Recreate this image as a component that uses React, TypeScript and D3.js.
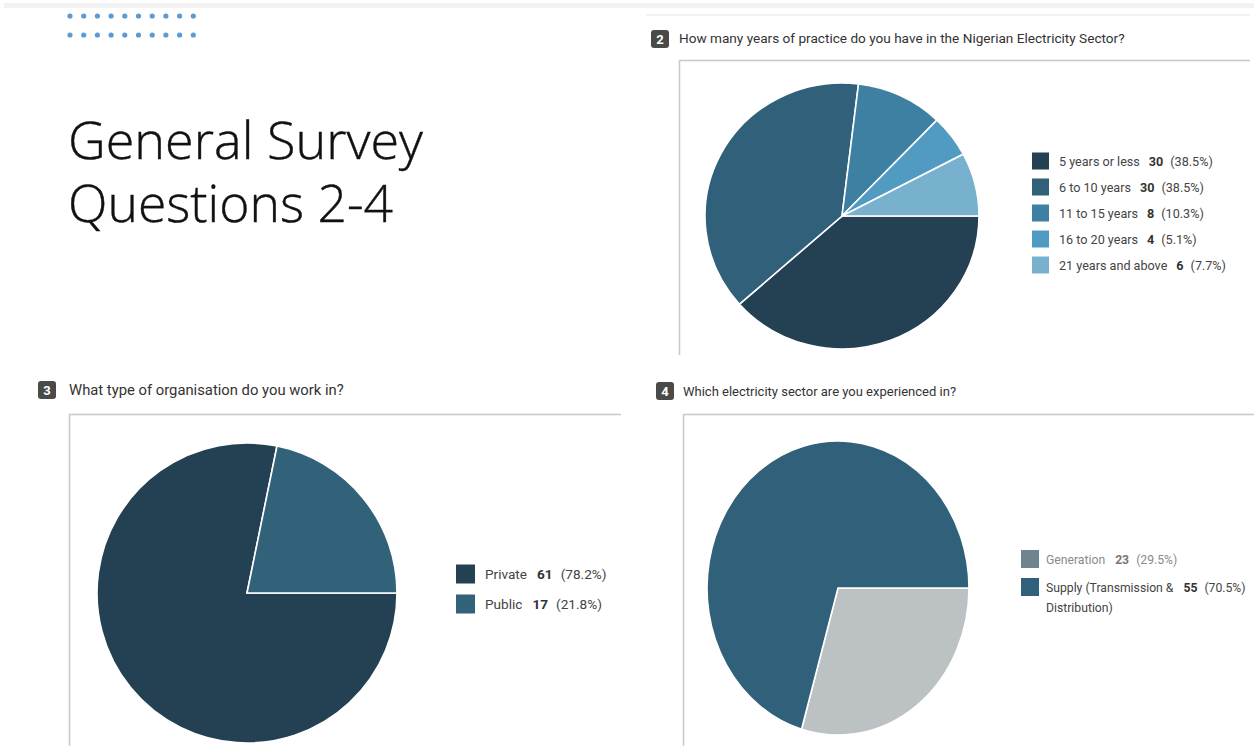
import React from "react";
import * as d3 from "d3";

const q2Labels = ["5 years or less", "6 to 10 years", "11 to 15 years", "16 to 20 years", "21 years and above"];
const q2Counts = [30, 30, 8, 4, 6];
const q2Pcts = ["38.5%", "38.5%", "10.3%", "5.1%", "7.7%"];
const q2Colors = ["#234152", "#30607a", "#3d80a2", "#519bc2", "#78b1cd"];

const q3Labels = ["Private", "Public"];
const q3Counts = [61, 17];
const q3Pcts = ["78.2%", "21.8%"];
const q3Colors = ["#234152", "#31627a"];

const q4Labels = ["Generation", "Supply (Transmission &"];
const q4Counts = [23, 55];
const q4Pcts = ["29.5%", "70.5%"];
const q4PieColors = ["#bcc1c4", "#30607a"];
const q4SwatchColors = ["#6f848f", "#30607a"];

const FONT = "Roboto, 'Noto Sans', sans-serif";

function Pie({ cx, cy, rx, ry, values, colors }: { cx: number; cy: number; rx: number; ry: number; values: number[]; colors: string[] }) {
  const pie = d3.pie<number>().sort(null).value((d) => d).startAngle(Math.PI / 2).endAngle(Math.PI / 2 + 2 * Math.PI);
  const arc = d3.arc<d3.PieArcDatum<number>>().innerRadius(0).outerRadius(rx);
  const arcs = pie(values);
  return (
    <g transform={`translate(${cx},${cy}) scale(1,${ry / rx})`}>
      {arcs.map((a, i) => (
        <path key={i} d={arc(a) || ""} fill={colors[i]} stroke="#fff" strokeWidth={1.6} vectorEffect="non-scaling-stroke" />
      ))}
    </g>
  );
}

function Badge({ x, y, n }: { x: number; y: number; n: string }) {
  return (
    <g>
      <rect x={x} y={y} width={18} height={18} rx={3} fill="#4a4a47" />
      <text x={x + 9} y={y + 14} textAnchor="middle" fill="#fff" fontSize={13} fontWeight={700} fontFamily={FONT}>{n}</text>
    </g>
  );
}

export default function App() {
  const dotsX = d3.range(10).map((i) => 70 + i * 13.7);
  const q2y = d3.scaleLinear().domain([0, 1]).range([161, 187]);
  const q3y = d3.scaleLinear().domain([0, 1]).range([574, 604]);
  const q4y = d3.scaleLinear().domain([0, 1]).range([559, 587]);
  const titleFont = "'Open Sans', 'Noto Sans', sans-serif";
  return (
    <svg width={1254} height={746} style={{ position: "absolute", left: 0, top: 0, background: "#fff" }}>
      <rect x={0} y={0} width={1254} height={746} fill="#fff" />
      <rect x={4} y={3} width={1250} height={5} fill="#f2f2f2" />
      <rect x={646} y={14} width={604} height={2} fill="#f2f2f2" />
      {[16, 35].map((yy) => dotsX.map((xx, i) => <circle key={`${yy}-${i}`} cx={xx} cy={yy} r={2.6} fill="#5b9bd5" />))}

      <text x={68} y={159} fontSize={51} fontFamily={titleFont} fontWeight={300} fill="#111" stroke="#111" strokeWidth={0.4} textLength={355} lengthAdjust="spacingAndGlyphs">General Survey</text>
      <text x={68} y={222} fontSize={51} fontFamily={titleFont} fontWeight={300} fill="#111" stroke="#111" strokeWidth={0.4} textLength={325} lengthAdjust="spacingAndGlyphs">Questions 2-4</text>

      {/* Q2 */}
      <Badge x={651} y={30} n="2" />
      <text x={679} y={43} fontSize={13.6} fontFamily={FONT} fill="#333">How many years of practice do you have in the Nigerian Electricity Sector?</text>
      <path d="M679.5,355 V60.5 H1250" fill="none" stroke="#c8c8c8" strokeWidth={1.5} />
      <Pie cx={842} cy={216} rx={137} ry={133} values={q2Counts} colors={q2Colors} />
      {q2Labels.map((l, i) => (
        <g key={l}>
          <rect x={1032} y={q2y(i) - 8.5} width={17} height={17} fill={q2Colors[i]} />
          <text x={1059} y={q2y(i) + 4.5} fontSize={12.6} fontFamily={FONT} fill="#444">
            {l}
            <tspan dx={9} fontWeight={700} fill="#333">{q2Counts[i]}</tspan>
            <tspan dx={7}>({q2Pcts[i]})</tspan>
          </text>
        </g>
      ))}

      {/* Q3 */}
      <Badge x={38} y={381} n="3" />
      <text x={69} y={395} fontSize={14.8} fontFamily={FONT} fill="#333">What type of organisation do you work in?</text>
      <path d="M69.5,746 V414.5 H621" fill="none" stroke="#c8c8c8" strokeWidth={1.5} />
      <Pie cx={247} cy={593} rx={150} ry={150} values={q3Counts} colors={q3Colors} />
      {q3Labels.map((l, i) => (
        <g key={l}>
          <rect x={456} y={q3y(i) - 9.5} width={19} height={19} fill={q3Colors[i]} />
          <text x={485} y={q3y(i) + 5} fontSize={13.6} fontFamily={FONT} fill="#444">
            {l}
            <tspan dx={10} fontWeight={700} fill="#333">{q3Counts[i]}</tspan>
            <tspan dx={8}>({q3Pcts[i]})</tspan>
          </text>
        </g>
      ))}

      {/* Q4 */}
      <Badge x={656} y={382} n="4" />
      <text x={683} y={396} fontSize={13} fontFamily={FONT} fill="#333">Which electricity sector are you experienced in?</text>
      <path d="M683.5,746 V414.5 H1254" fill="none" stroke="#c8c8c8" strokeWidth={1.5} />
      <Pie cx={838} cy={588} rx={131} ry={147} values={q4Counts} colors={q4PieColors} />
      {q4Labels.map((l, i) => (
        <g key={l}>
          <rect x={1021} y={q4y(i) - 9} width={18} height={18} fill={q4SwatchColors[i]} />
          <text x={1046} y={q4y(i) + 4.5} fontSize={12.2} fontFamily={FONT} fill={i === 0 ? "#8a8a8a" : "#444"}>
            {l}
            <tspan dx={10} fontWeight={700} fill={i === 0 ? "#777" : "#333"}>{q4Counts[i]}</tspan>
            <tspan dx={7}>({q4Pcts[i]})</tspan>
          </text>
        </g>
      ))}
      <text x={1046} y={q4y(1) + 25} fontSize={12.2} fontFamily={FONT} fill="#444">Distribution)</text>
    </svg>
  );
}
